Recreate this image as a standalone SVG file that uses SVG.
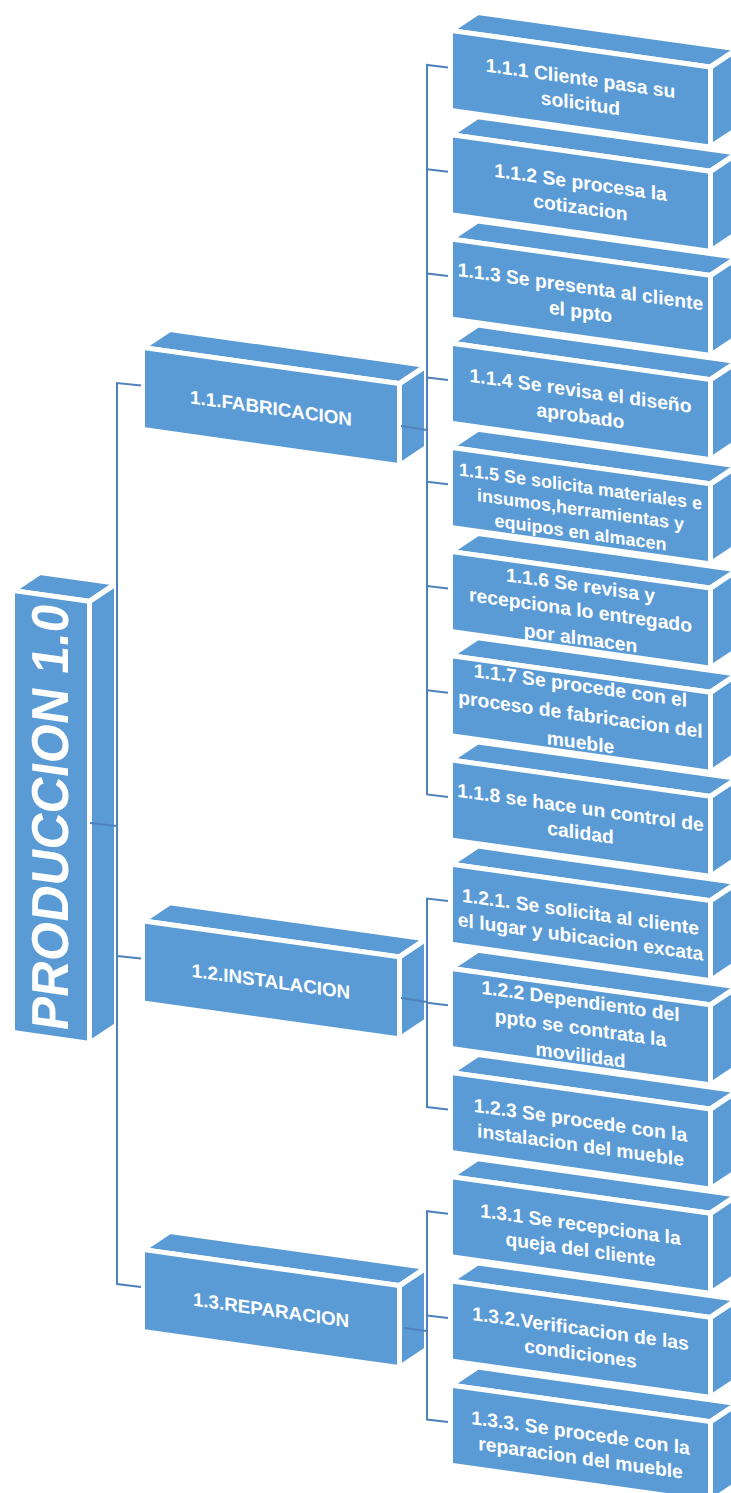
<svg xmlns="http://www.w3.org/2000/svg" xmlns:xlink="http://www.w3.org/1999/xlink" width="731" height="1493" viewBox="0 0 731 1493">
  <style>
    .face { fill: #5B9BD5; stroke: #FFFFFF; stroke-width: 5; stroke-linejoin: miter; }
    .lbl { fill: #FFFFFF; font-family: "Liberation Sans", Arial, sans-serif; font-weight: bold; text-anchor: middle; }
    .root { font-size: 52px; }
    .l1 { font-size: 18.8px; }
    .l2 { font-size: 19.3px; }
    .l2s { font-size: 18px; }
    .wire { fill: none; stroke: #4F81BD; stroke-width: 2; stroke-linejoin: miter; }
  </style>
  <defs>
    <!-- 3D blocks: front face, top face and right side face (drawn in a skewed frame) -->
    <g id="cubeRoot">
      <polygon class="face" points="0,0 77,0 104,-21.8 27,-21.8"/>
      <polygon class="face" points="77,0 104,-21.8 104,420.2 77,442"/>
      <rect class="face" x="0" y="0" width="77" height="442"/>
    </g>
    <g id="cubeMid">
      <polygon class="face" points="0,0 257,0 284,-21.8 27,-21.8"/>
      <polygon class="face" points="257,0 284,-21.8 284,60.2 257,82"/>
      <rect class="face" x="0" y="0" width="257" height="82"/>
    </g>
    <g id="cubeLeaf">
      <polygon class="face" points="0,0 260,0 287,-21.8 27,-21.8"/>
      <polygon class="face" points="260,0 287,-21.8 287,58.2 260,80"/>
      <rect class="face" x="0" y="0" width="260" height="80"/>
    </g>
  </defs>

  <!-- root -->
  <g id="n1" transform="translate(12.5,590.5) skewY(8)">
    <use xlink:href="#cubeRoot"/>
    <text class="lbl root" transform="translate(55.5,221) rotate(-90)" x="0" y="0" textLength="426" lengthAdjust="spacingAndGlyphs">PRODUCCION 1.0</text>
  </g>

  <!-- second level -->
  <g id="n11" transform="translate(142.5,347.5) skewY(8)">
    <use xlink:href="#cubeMid"/>
    <text class="lbl l1" x="128.5" y="49">1.1.FABRICACION</text>
  </g>
  <g id="n12" transform="translate(142.5,920.8) skewY(8)">
    <use xlink:href="#cubeMid"/>
    <text class="lbl l1" x="128.5" y="49">1.2.INSTALACION</text>
  </g>
  <g id="n13" transform="translate(142.5,1249.5) skewY(8)">
    <use xlink:href="#cubeMid"/>
    <text class="lbl l1" x="128.5" y="49">1.3.REPARACION</text>
  </g>

  <!-- third level -->
  <g id="n111" transform="translate(450.5,30.5) skewY(8)">
    <use xlink:href="#cubeLeaf"/>
    <text class="lbl l2"><tspan x="130" y="36">1.1.1 Cliente pasa su</tspan><tspan x="130" y="61">solicitud</tspan></text>
  </g>
  <g id="n112" transform="translate(450.5,134.7) skewY(8)">
    <use xlink:href="#cubeLeaf"/>
    <text class="lbl l2"><tspan x="130" y="36">1.1.2 Se procesa la</tspan><tspan x="130" y="61">cotizacion</tspan></text>
  </g>
  <g id="n113" transform="translate(450.5,238.9) skewY(8)">
    <use xlink:href="#cubeLeaf"/>
    <text class="lbl l2"><tspan x="130" y="36">1.1.3 Se presenta al cliente</tspan><tspan x="130" y="61">el ppto</tspan></text>
  </g>
  <g id="n114" transform="translate(450.5,343.1) skewY(8)">
    <use xlink:href="#cubeLeaf"/>
    <text class="lbl l2"><tspan x="130" y="36">1.1.4 Se revisa el diseño</tspan><tspan x="130" y="61">aprobado</tspan></text>
  </g>
  <g id="n115" transform="translate(450.5,447.3) skewY(8)">
    <use xlink:href="#cubeLeaf"/>
    <text class="lbl l2s"><tspan x="130" y="27">1.1.5 Se solicita materiales e</tspan><tspan x="130" y="50">insumos,herramientas y</tspan><tspan x="130" y="73">equipos en almacen</tspan></text>
  </g>
  <g id="n116" transform="translate(450.5,551.5) skewY(8)">
    <use xlink:href="#cubeLeaf"/>
    <text class="lbl l2"><tspan x="130" y="22">1.1.6 Se revisa y</tspan><tspan x="130" y="47">recepciona lo entregado</tspan><tspan x="130" y="75">por almacen</tspan></text>
  </g>
  <g id="n117" transform="translate(450.5,655.7) skewY(8)">
    <use xlink:href="#cubeLeaf"/>
    <text class="lbl l2"><tspan x="130" y="18">1.1.7 Se procede con el</tspan><tspan x="130" y="47">proceso de fabricacion del</tspan><tspan x="130" y="75">mueble</tspan></text>
  </g>
  <g id="n118" transform="translate(450.5,759.9) skewY(8)">
    <use xlink:href="#cubeLeaf"/>
    <text class="lbl l2"><tspan x="130" y="36">1.1.8 se hace un control de</tspan><tspan x="130" y="61">calidad</tspan></text>
  </g>
  <g id="n121" transform="translate(450.5,864.1) skewY(8)">
    <use xlink:href="#cubeLeaf"/>
    <text class="lbl l2"><tspan x="130" y="36">1.2.1. Se solicita al cliente</tspan><tspan x="130" y="61">el lugar y ubicacion excata</tspan></text>
  </g>
  <g id="n122" transform="translate(450.5,968.3) skewY(8)">
    <use xlink:href="#cubeLeaf"/>
    <text class="lbl l2"><tspan x="130" y="21">1.2.2 Dependiento del</tspan><tspan x="130" y="48">ppto se contrata la</tspan><tspan x="130" y="75">movilidad</tspan></text>
  </g>
  <g id="n123" transform="translate(450.5,1072.5) skewY(8)">
    <use xlink:href="#cubeLeaf"/>
    <text class="lbl l2"><tspan x="130" y="36">1.2.3 Se procede con la</tspan><tspan x="130" y="61">instalacion del mueble</tspan></text>
  </g>
  <g id="n131" transform="translate(450.5,1176.7) skewY(8)">
    <use xlink:href="#cubeLeaf"/>
    <text class="lbl l2"><tspan x="130" y="36">1.3.1 Se recepciona la</tspan><tspan x="130" y="61">queja del cliente</tspan></text>
  </g>
  <g id="n132" transform="translate(450.5,1280.9) skewY(8)">
    <use xlink:href="#cubeLeaf"/>
    <text class="lbl l2"><tspan x="130" y="36">1.3.2.Verificacion de las</tspan><tspan x="130" y="61">condiciones</tspan></text>
  </g>
  <g id="n133" transform="translate(450.5,1385.1) skewY(8)">
    <use xlink:href="#cubeLeaf"/>
    <text class="lbl l2"><tspan x="130" y="36">1.3.3. Se procede con la</tspan><tspan x="130" y="61">reparacion del mueble</tspan></text>
  </g>

  <!-- connectors -->
  <g id="connectors" class="wire">
    <path d="M90,823 L117,826"/>
    <path d="M141,385.5 L117,383 L117,1284 L141,1287"/>
    <path d="M117,956 L141,958.5"/>

    <path d="M401,426 L427,430"/>
    <path d="M448,67.5 L427,65 L427,794.4 L448,797"/>
    <path d="M427,169.2 L448,171.7"/>
    <path d="M427,273.4 L448,275.9"/>
    <path d="M427,377.6 L448,380.1"/>
    <path d="M427,481.8 L448,484.3"/>
    <path d="M427,586 L448,588.5"/>
    <path d="M427,690.2 L448,692.7"/>

    <path d="M401,998 L427,1002"/>
    <path d="M448,901.1 L427,898.6 L427,1107 L448,1109.5"/>
    <path d="M427,1002.8 L448,1005.3"/>

    <path d="M404,1328 L427,1331"/>
    <path d="M448,1213.7 L427,1211.2 L427,1419.6 L448,1422.1"/>
    <path d="M427,1315.4 L448,1317.9"/>
  </g>
</svg>
